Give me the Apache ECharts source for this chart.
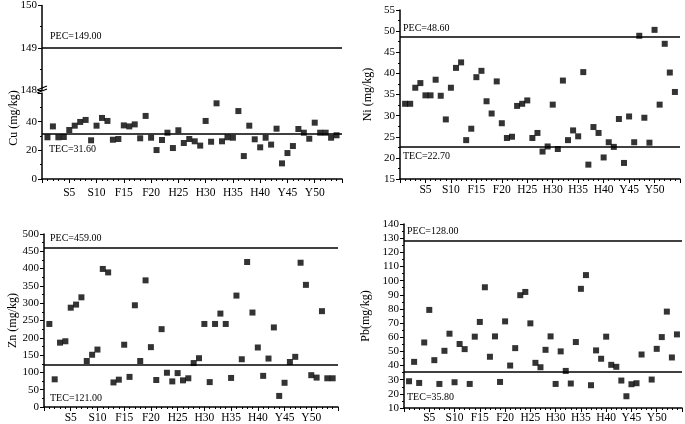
<!DOCTYPE html>
<html><head><meta charset="utf-8">
<script src="https://cdn.jsdelivr.net/npm/echarts@6/dist/echarts.min.js"></script>
<style>html,body{margin:0;padding:0;background:#fff}#c{width:685px;height:424px}</style>
</head><body><div id="c"></div>
<script>
const categories = [
  'S1','S2','S3','S4','S5','S6','S7','S8','S9','S10','S11',
  'F12','F13','F14','F15','F16','F17','F18','F19','F20','F21',
  'H22','H23','H24','H25','H26','H27','H28','H29','H30','H31','H32','H33','H34','H35','H36','H37','H38','H39','H40','H41','H42',
  'Y43','Y44','Y45','Y46','Y47','Y48','Y49','Y50','Y51','Y52','Y53','Y54'
];
const cuValues = [29.1,36.7,29.1,29.3,34.2,37.2,39.8,41.2,27.0,37.2,42.6,40.5,27.4,27.9,37.4,36.7,38.1,28.4,44.0,28.8,20.2,27.2,32.3,21.6,34.0,25.1,27.9,26.3,23.3,40.5,26.0,52.8,26.3,29.1,28.8,47.4,16.0,37.2,27.7,22.1,28.8,24.0,35.1,10.9,18.1,23.0,34.9,32.3,28.1,39.3,32.3,32.3,28.8,30.5];
const niValues = [32.8,32.8,36.6,37.7,34.8,34.8,38.5,34.7,29.1,36.6,41.3,42.6,24.2,26.9,39.1,40.6,33.4,30.5,38.1,28.2,24.7,25.0,32.3,32.8,33.6,24.7,25.9,21.5,22.7,32.6,22.1,38.3,24.2,26.5,25.1,40.3,18.4,27.3,25.9,20.1,23.7,22.6,29.2,18.8,29.8,23.7,48.9,29.5,23.6,50.3,32.6,47.0,40.2,35.6];
const znValues = [240,80,186,190,287,296,317,133,151,166,399,389,71,79,180,87,294,133,366,173,78,225,99,74,98,77,83,127,141,240,72,240,270,240,84,322,138,419,273,172,90,140,230,32,70,130,145,417,353,92,85,277,83,83];
const pbValues = [28.9,42.6,27.7,56.3,79.3,43.8,27.0,50.4,62.5,28.2,55.2,51.6,27.0,60.4,70.8,95.3,46.2,60.6,28.4,71.2,40.0,52.3,89.7,92.0,69.8,41.9,38.8,51.1,60.6,27.0,50.0,36.2,27.3,56.6,94.2,103.9,26.1,50.7,44.8,60.4,40.5,39.1,29.4,18.3,26.8,27.5,47.8,null,30.1,51.8,60.1,78.1,45.7,62.0];
const pecValues = [149.00, 48.60, 459.00, 128.00];
const tecValues = [31.60, 22.70, 121.00, 35.80];
const yTitles = ['Cu (mg/kg)', 'Ni (mg/kg)', 'Zn (mg/kg)', 'Pb(mg/kg)'];

const FONT = 'Liberation Serif';
const toPts = arr => arr.map((v, i) => [i + 1, v]).filter(p => p[1] !== null);

function xAxis(gridIndex, show, margin) {
  return {
    type: 'value', gridIndex, min: 0, max: 55, interval: 5, show,
    axisLine: {show: true, onZero: false, lineStyle: {color: '#000', width: 1.5}},
    axisTick: {show: true, length: 4, lineStyle: {color: '#000', width: 1}},
    minorTick: {show: true, splitNumber: 5, length: 2, lineStyle: {color: '#000'}},
    splitLine: {show: false}, minorSplitLine: {show: false},
    axisLabel: {
      margin, fontFamily: FONT, fontSize: 11.5, color: '#000',
      formatter: v => (v > 0 && v < 55) ? categories[v - 1] : ''
    }
  };
}
function yAxis(gridIndex, min, max, interval, extra) {
  return Object.assign({
    type: 'value', gridIndex, min, max, interval,
    axisLine: {show: true, onZero: false, lineStyle: {color: '#000', width: 1.5}},
    axisTick: {show: true, length: 4, lineStyle: {color: '#000', width: 1}},
    minorTick: {show: true, splitNumber: 2, length: 2, lineStyle: {color: '#000'}},
    splitLine: {show: false}, minorSplitLine: {show: false},
    axisLabel: {fontFamily: FONT, fontSize: 11, color: '#000', margin: 5},
    nameLocation: 'middle', nameRotate: 90,
    nameTextStyle: {fontFamily: FONT, fontSize: 12, color: '#000'}
  }, extra || {});
}
function refLine(pec, tec, pecDist, tecDist) {
  const d = [];
  if (pec !== null) d.push({yAxis: pec, label: {formatter: 'PEC=' + pec.toFixed(2), position: 'insideStartTop', distance: pecDist}});
  if (tec !== null) d.push({yAxis: tec, label: {formatter: 'TEC=' + tec.toFixed(2), position: 'insideStartBottom', distance: tecDist}});
  return {
    silent: true, symbol: 'none', animation: false,
    lineStyle: {color: '#000', width: 1.6, type: 'solid'},
    label: {show: true, fontFamily: FONT, fontSize: 10, color: '#000'},
    data: d
  };
}
const sq = {type: 'scatter', symbol: 'rect', symbolSize: 6, itemStyle: {color: '#000'}, animation: false};

const option = {
  backgroundColor: '#fff',
  grid: [
    {left: 42, top: 5, width: 300, height: 85},
    {left: 42, top: 93, width: 300, height: 86},
    {left: 400, top: 10, width: 280, height: 169},
    {left: 44, top: 234, width: 294, height: 176},
    {left: 404, top: 224, width: 280, height: 184}
  ],
  xAxis: [
    Object.assign(xAxis(0, false, 8), {axisLine: {show: false}}),
    xAxis(1, true, 8),
    xAxis(2, true, 5),
    xAxis(3, true, 5),
    xAxis(4, true, 4)
  ],
  yAxis: [
    yAxis(0, 148, 150, 1),
    yAxis(1, 0, 60, 20, {axisLabel: {fontFamily: FONT, fontSize: 11, color: '#000', margin: 5, showMaxLabel: false}}),
    yAxis(2, 15, 55, 5, {name: yTitles[1], nameGap: 26}),
    yAxis(3, 0, 500, 50, {name: yTitles[2], nameGap: 23}),
    yAxis(4, 10, 140, 10, {name: yTitles[3], nameGap: 32})
  ],
  graphic: [
    {type: 'text', x: 14, y: 118, rotation: Math.PI / 2,
     style: {text: yTitles[0], fontFamily: FONT, fontSize: 12, fill: '#000', align: 'center', verticalAlign: 'middle'}},
    {type: 'line', shape: {x1: 37, y1: 90, x2: 47, y2: 86}, style: {stroke: '#000', lineWidth: 1.2}},
    {type: 'line', shape: {x1: 37, y1: 93, x2: 47, y2: 89}, style: {stroke: '#000', lineWidth: 1.2}}
  ],
  series: [
    Object.assign({}, sq, {xAxisIndex: 0, yAxisIndex: 0, data: [], markLine: refLine(pecValues[0], null, [8, 6], 6)}),
    Object.assign({}, sq, {xAxisIndex: 1, yAxisIndex: 1, data: toPts(cuValues), markLine: refLine(null, tecValues[0], 6, [7, 11])}),
    Object.assign({}, sq, {xAxisIndex: 2, yAxisIndex: 2, data: toPts(niValues), markLine: refLine(pecValues[1], tecValues[1], [3, 4], [3, 5])}),
    Object.assign({}, sq, {xAxisIndex: 3, yAxisIndex: 3, data: toPts(znValues), markLine: refLine(pecValues[2], tecValues[2], [6, 5], [6, 28])}),
    Object.assign({}, sq, {xAxisIndex: 4, yAxisIndex: 4, data: toPts(pbValues), markLine: refLine(pecValues[3], tecValues[3], [3, 5], [3, 21])})
  ]
};
const chart = echarts.init(document.getElementById('c'), null, {renderer: 'canvas'});
chart.setOption(option);
</script></body></html>
